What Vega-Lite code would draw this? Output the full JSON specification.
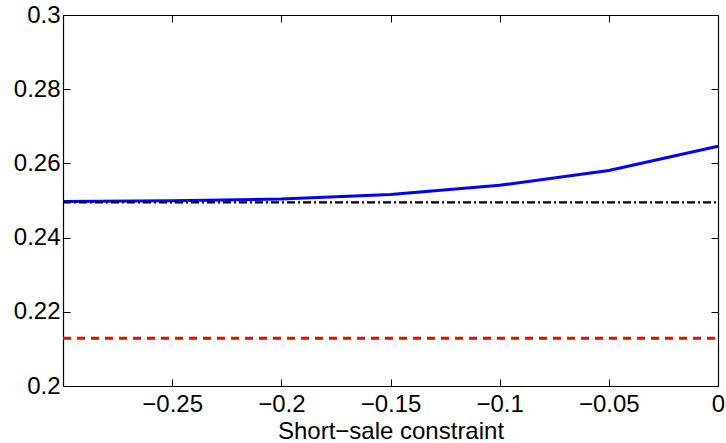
{
  "$schema": "https://vega.github.io/schema/vega-lite/v6.json",
  "width": 655,
  "height": 371,
  "autosize": {"type": "none"},
  "padding": {"left": 63, "top": 15, "right": 8, "bottom": 57},
  "background": "white",
  "config": {
    "view": {"stroke": null},
    "font": "Liberation Sans",
    "axis": {
      "grid": false,
      "domainColor": "black",
      "domainWidth": 1.2,
      "tickColor": "black",
      "tickWidth": 1,
      "labelColor": "black",
      "labelFont": "Liberation Sans",
      "labelFontSize": 24,
      "titleFont": "Liberation Sans",
      "titleFontSize": 24,
      "titleFontWeight": "normal",
      "titleColor": "black"
    }
  },
  "datasets": {
    "blue": [
      {"x": -0.3, "y": 0.2497},
      {"x": -0.25, "y": 0.2499},
      {"x": -0.2, "y": 0.2504},
      {"x": -0.15, "y": 0.2516},
      {"x": -0.1, "y": 0.2541},
      {"x": -0.05, "y": 0.2581},
      {"x": 0, "y": 0.2646}
    ],
    "black": [
      {"x": -0.3, "y": 0.2495},
      {"x": 0, "y": 0.2495}
    ],
    "red": [
      {"x": -0.3, "y": 0.2129},
      {"x": 0, "y": 0.2129}
    ]
  },
  "layer": [
    {
      "data": {"name": "blue"},
      "mark": {"type": "line", "color": "#0000ff", "strokeWidth": 3},
      "encoding": {
        "x": {
          "field": "x", "type": "quantitative",
          "scale": {"domain": [-0.3, 0], "nice": false, "zero": false},
          "axis": {
            "orient": "bottom",
            "values": [-0.25, -0.2, -0.15, -0.1, -0.05, 0],
            "format": "~g",
            "tickSize": -7,
            "labelPadding": 13,
            "labelFlush": false,
            "title": "Short−sale constraint",
            "titlePadding": 3
          }
        },
        "y": {
          "field": "y", "type": "quantitative",
          "scale": {"domain": [0.2, 0.3], "nice": false, "zero": false},
          "axis": {
            "orient": "left",
            "values": [0.2, 0.22, 0.24, 0.26, 0.28, 0.3],
            "format": "~g",
            "tickSize": -7,
            "labelPadding": 10,
            "labelFlush": false,
            "title": null
          }
        }
      }
    },
    {
      "data": {"name": "black"},
      "mark": {"type": "line", "color": "black", "strokeWidth": 2.2, "strokeDash": [8, 3, 2, 3]},
      "encoding": {
        "x": {
          "field": "x", "type": "quantitative",
          "axis": {
            "orient": "top",
            "values": [-0.25, -0.2, -0.15, -0.1, -0.05, 0],
            "labels": false,
            "tickSize": -7,
            "title": null
          }
        },
        "y": {
          "field": "y", "type": "quantitative",
          "axis": {
            "orient": "right",
            "values": [0.2, 0.22, 0.24, 0.26, 0.28, 0.3],
            "labels": false,
            "tickSize": -7,
            "title": null
          }
        }
      }
    },
    {
      "data": {"name": "red"},
      "mark": {"type": "line", "color": "#ff0000", "strokeWidth": 3, "strokeDash": [8, 6]},
      "encoding": {
        "x": {"field": "x", "type": "quantitative", "axis": null},
        "y": {"field": "y", "type": "quantitative", "axis": null}
      }
    }
  ],
  "resolve": {"axis": {"x": "independent", "y": "independent"}}
}
